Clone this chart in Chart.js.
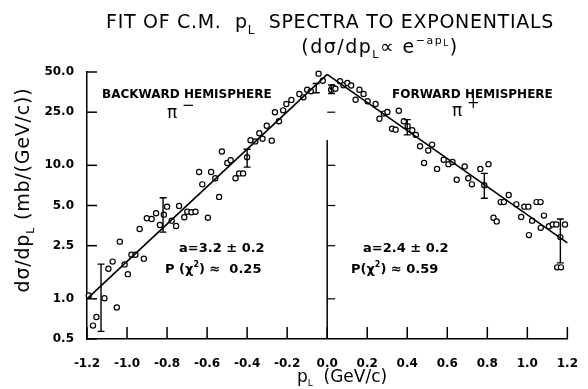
<!DOCTYPE html>
<html>
<head>
<meta charset="utf-8">
<script src="https://cdn.jsdelivr.net/npm/chart.js@4.4.0/dist/chart.umd.min.js"></script>
<style>
  html, body { margin: 0; padding: 0; background: #fff; }
  #wrap { width: 588px; height: 389px; }
</style>
</head>
<body>
<div id="wrap"><canvas id="chart" width="588" height="389"></canvas></div>
<script>
// backward hemisphere (pi-) points, p_L < 0
const backX = [-1.191, -1.170, -1.153, -1.113, -1.093, -1.072, -1.051, -1.036, -1.012, -0.996,
  -0.978, -0.958, -0.937, -0.916, -0.901, -0.877, -0.855, -0.836, -0.816, -0.800,
  -0.777, -0.755, -0.740, -0.714, -0.699, -0.678, -0.658, -0.640, -0.624, -0.596,
  -0.580, -0.559, -0.540, -0.526, -0.499, -0.482, -0.458, -0.440, -0.420, -0.400,
  -0.383, -0.359, -0.339, -0.323, -0.302, -0.277, -0.261, -0.241, -0.220, -0.204,
  -0.179, -0.139, -0.119, -0.100, -0.082, -0.043, -0.022];
const backY = [1.06, 0.63, 0.73, 1.01, 1.68, 1.90, 0.86, 2.68, 1.81, 1.53,
  2.14, 2.14, 3.33, 2.0, 4.01, 3.96, 4.37, 3.57, 4.27, 4.9,
  3.85, 3.51, 4.96, 4.08, 4.49, 4.45, 4.49, 8.9, 7.2, 4.05,
  8.9, 8.0, 5.8, 12.7, 10.4, 10.9, 8.0, 8.7, 8.7, 11.5,
  15.4, 15.1, 17.4, 15.8, 19.8, 15.3, 25, 21.4, 25.8, 28.8,
  30.9, 34.2, 32.3, 36.8, 35.8, 48.6, 43];

// forward hemisphere (pi+) points, p_L > 0
const fwdX = [0.020, 0.027, 0.041, 0.064, 0.081, 0.101, 0.120, 0.142, 0.161, 0.182,
  0.202, 0.242, 0.261, 0.283, 0.301, 0.324, 0.342, 0.358, 0.383, 0.402,
  0.425, 0.443, 0.464, 0.484, 0.505, 0.524, 0.549, 0.582, 0.606, 0.626,
  0.647, 0.687, 0.705, 0.723, 0.765, 0.785, 0.806, 0.831, 0.847, 0.867,
  0.883, 0.907, 0.945, 0.969, 0.985, 1.005, 1.008, 1.024, 1.046, 1.066,
  1.067, 1.083, 1.108, 1.127, 1.145, 1.149, 1.165, 1.168, 1.188];
const fwdY = [36.8, 38.4, 37.5, 42.6, 39.8, 41.4, 39.6, 31, 36.8, 34.2,
  30.2, 28.8, 22.3, 24.4, 25.1, 18.8, 18.5, 25.6, 21.4, 19.6,
  18.3, 16.9, 13.9, 10.4, 12.9, 14.3, 9.4, 11.0, 10.2, 10.6,
  7.8, 9.8, 8.0, 7.2, 9.4, 7.1, 10.2, 4.05, 3.8, 5.3,
  5.3, 6.0, 5.1, 4.1, 4.9, 4.9, 3.0, 3.85, 5.3, 5.3,
  3.4, 4.2, 3.5, 3.6, 3.6, 1.72, 2.9, 1.72, 3.6];

// exponential fits (straight on the log axis)
const fitBackX = [-1.2, 0.0];
const fitBackY = [1.0, 48];
const fitFwdX = [0.0, 1.2];
const fitFwdY = [48, 2.62];

// error bars
const errX = [-1.13, -0.82, -0.40, -0.055, 0.022, 0.40, 0.785, 1.165];
const errLo = [0.57, 3.16, 9.7, 35, 34.5, 16.9, 5.66, 1.86];
const errHi = [1.82, 5.72, 13.2, 41, 40, 22, 8.7, 3.96];

const xTicks = [-1.2, -1.0, -0.8, -0.6, -0.4, -0.2, 0.0, 0.2, 0.4, 0.6, 0.8, 1.0, 1.2];
const yTicks = [0.5, 1.0, 2.5, 5.0, 10.0, 25.0, 50.0];
const midTicks = [1.0, 2.5, 5.0, 10.0, 25.0];
const midLineTop = 15.5;

const FONT = '"DejaVu Sans", sans-serif';

function pts(xs, ys) {
    return xs.map((x, i) => ({ x: x, y: ys[i] }));
}

// draw a run of text pieces, some raised or lowered and smaller
function drawRich(ctx, x, y, parts, size, weight, align, spacing) {
    ctx.letterSpacing = (spacing || 0) + 'px';
    let total = 0;
    parts.forEach(p => {
        ctx.font = `${weight} ${Math.round(size * (p.s || 1))}px ${FONT}`;
        p.w = ctx.measureText(p.t).width;
        total += p.w;
    });
    let cx = x;
    if (align === 'center') cx = x - total / 2;
    if (align === 'right') cx = x - total;
    ctx.textAlign = 'left';
    ctx.textBaseline = 'alphabetic';
    parts.forEach(p => {
        ctx.font = `${weight} ${Math.round(size * (p.s || 1))}px ${FONT}`;
        ctx.fillText(p.t, cx, y + (p.dy || 0) * size);
        cx += p.w;
    });
    ctx.letterSpacing = '0px';
}

const decorPlugin = {
    id: 'decor',
    afterDatasetsDraw(chart) {
        const ctx = chart.ctx;
        const xs = chart.scales.x, ys = chart.scales.y;
        const area = chart.chartArea;
        ctx.save();
        ctx.strokeStyle = '#000';
        ctx.lineWidth = 1.5;

        // inside ticks, left axis
        yTicks.forEach(v => {
            const py = ys.getPixelForValue(v);
            ctx.beginPath();
            ctx.moveTo(area.left, py);
            ctx.lineTo(area.left + 10, py);
            ctx.stroke();
        });
        // inside ticks, bottom axis
        xTicks.forEach(v => {
            const px = xs.getPixelForValue(v);
            ctx.beginPath();
            ctx.moveTo(px, area.bottom);
            ctx.lineTo(px, area.bottom - 12);
            ctx.stroke();
        });
        // centre line at p_L = 0
        const x0 = xs.getPixelForValue(0);
        ctx.beginPath();
        ctx.moveTo(x0, area.bottom);
        ctx.lineTo(x0, ys.getPixelForValue(midLineTop));
        ctx.stroke();
        ctx.lineWidth = 1.2;
        midTicks.forEach(v => {
            const py = ys.getPixelForValue(v);
            ctx.beginPath();
            ctx.moveTo(x0, py);
            ctx.lineTo(x0 + 8, py);
            ctx.stroke();
        });

        // error bars
        ctx.lineWidth = 1.4;
        errX.forEach((v, i) => {
            const px = xs.getPixelForValue(v);
            const lo = ys.getPixelForValue(errLo[i]);
            const hi = ys.getPixelForValue(errHi[i]);
            ctx.beginPath();
            ctx.moveTo(px, lo); ctx.lineTo(px, hi);
            ctx.moveTo(px - 3.5, lo); ctx.lineTo(px + 3.5, lo);
            ctx.moveTo(px - 3.5, hi); ctx.lineTo(px + 3.5, hi);
            ctx.stroke();
        });

        // text
        ctx.fillStyle = '#000';
        drawRich(ctx, 330, 28, [
            { t: 'FIT OF C.M.  p' }, { t: 'L', s: 0.65, dy: 0.3 },
            { t: '  SPECTRA TO EXPONENTIALS' }
        ], 19, 'normal', 'center', 0.7);
        drawRich(ctx, 380, 53, [
            { t: '(dσ/dp' }, { t: 'L', s: 0.6, dy: 0.25 }, { t: '∝ e' },
            { t: '−ap', s: 0.6, dy: -0.5 }, { t: 'L', s: 0.45, dy: -0.38 }, { t: ')' }
        ], 19, 'normal', 'center', 1.5);

        drawRich(ctx, 102, 98, [{ t: 'BACKWARD HEMISPHERE' }], 12, 'bold', 'left');
        drawRich(ctx, 167, 118, [{ t: 'π' }, { t: ' −', s: 0.9, dy: -0.45 }], 17, 'normal', 'left');
        drawRich(ctx, 392, 98, [{ t: 'FORWARD HEMISPHERE' }], 12, 'bold', 'left');
        drawRich(ctx, 452, 116, [{ t: 'π' }, { t: ' +', s: 0.9, dy: -0.45 }], 17, 'normal', 'left');

        drawRich(ctx, 179, 252, [{ t: 'a=3.2 ± 0.2' }], 13, 'bold', 'left');
        drawRich(ctx, 165, 273, [{ t: 'P (χ' }, { t: '2', s: 0.65, dy: -0.45 }, { t: ') ≈  0.25' }], 13, 'bold', 'left');
        drawRich(ctx, 363, 252, [{ t: 'a=2.4 ± 0.2' }], 13, 'bold', 'left');
        drawRich(ctx, 351, 273, [{ t: 'P(χ' }, { t: '2', s: 0.65, dy: -0.45 }, { t: ') ≈ 0.59' }], 13, 'bold', 'left');

        // axis titles
        drawRich(ctx, 342, 382, [{ t: 'p' }, { t: 'L', s: 0.55, dy: 0.25 }, { t: '  (GeV/c)' }], 17, 'normal', 'center');
        ctx.save();
        ctx.translate(29, 190);
        ctx.rotate(-Math.PI / 2);
        drawRich(ctx, 0, 0, [{ t: 'dσ/dp' }, { t: 'L', s: 0.6, dy: 0.25 }, { t: ' (mb/(GeV/c))' }], 19, 'normal', 'center', 0.8);
        ctx.restore();

        ctx.restore();
    }
};

const pointStyle = {
    showLine: false,
    pointStyle: 'circle',
    pointRadius: 2.6,
    pointBorderWidth: 1.2,
    pointBorderColor: '#000',
    pointBackgroundColor: '#fff',
    clip: false
};

new Chart(document.getElementById('chart'), {
    type: 'scatter',
    data: {
        datasets: [
            { label: 'fit backward', data: pts(fitBackX, fitBackY), showLine: true, borderColor: '#000', borderWidth: 1.6, pointRadius: 0, clip: false },
            { label: 'fit forward', data: pts(fitFwdX, fitFwdY), showLine: true, borderColor: '#000', borderWidth: 1.6, pointRadius: 0, clip: false },
            Object.assign({ label: 'backward', data: pts(backX, backY) }, pointStyle),
            Object.assign({ label: 'forward', data: pts(fwdX, fwdY) }, pointStyle)
        ]
    },
    options: {
        responsive: false,
        animation: false,
        layout: { padding: { top: 72, right: 10, left: 0, bottom: 0 } },
        plugins: { legend: { display: false }, tooltip: { enabled: false } },
        scales: {
            x: {
                type: 'linear',
                min: -1.2,
                max: 1.2,
                grid: { display: false },
                border: { display: true, color: '#000', width: 1.5 },
                afterBuildTicks: s => { s.ticks = xTicks.map(v => ({ value: v })); },
                afterFit: s => { s.height = 50; },
                ticks: {
                    color: '#000',
                    padding: 10,
                    maxRotation: 0,
                    font: { family: FONT, size: 12, weight: 'bold' },
                    callback: v => v.toFixed(1)
                }
            },
            y: {
                type: 'logarithmic',
                min: 0.5,
                max: 50,
                grid: { display: false },
                border: { display: true, color: '#000', width: 1.5 },
                afterBuildTicks: s => { s.ticks = yTicks.map(v => ({ value: v })); },
                afterFit: s => { s.width = 87; },
                ticks: {
                    color: '#000',
                    padding: 5,
                    font: { family: FONT, size: 12, weight: 'bold' },
                    callback: v => Number(v).toFixed(1)
                }
            }
        }
    },
    plugins: [decorPlugin]
});
</script>
</body>
</html>
